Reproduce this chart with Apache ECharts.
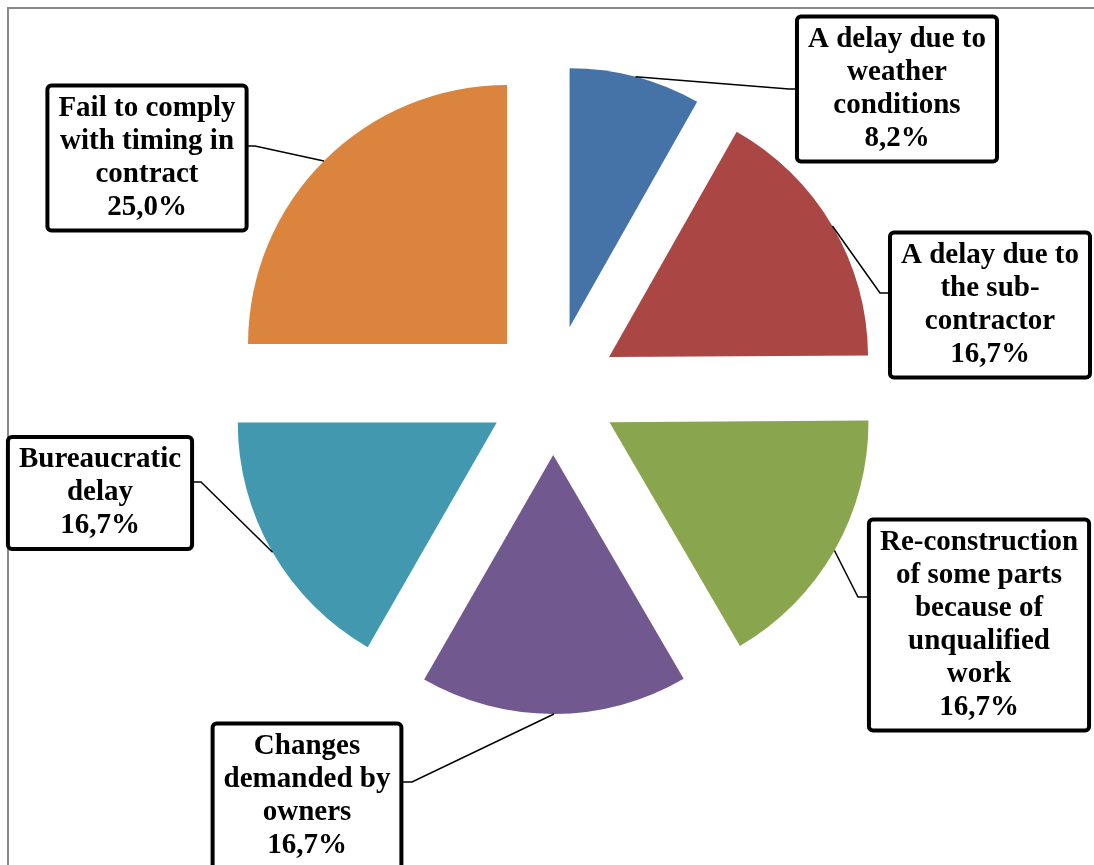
<!DOCTYPE html>
<html>
<head>
<meta charset="utf-8">
<script src="https://cdn.jsdelivr.net/npm/echarts@6/dist/echarts.min.js"></script>
<style>
  html, body { margin: 0; padding: 0; background: #fff; }
  #chart { width: 1094px; height: 865px; }
</style>
</head>
<body>
<div id="chart"></div>
<script>
// Causes of project delay, share of responses (%)
const categories = [
  'A delay due to\nweather\nconditions',
  'A delay due to\nthe sub-\ncontractor',
  'Re-construction\nof some parts\nbecause of\nunqualified\nwork',
  'Changes\ndemanded by\nowners',
  'Bureaucratic\ndelay',
  'Fail to comply\nwith timing in\ncontract'
];
const shares = [8.2, 16.7, 16.7, 16.7, 16.7, 25.0];
const colors = ['#4572A7', '#AA4643', '#89A54E', '#71588F', '#4198AF', '#DB843D'];

// Callout placement: box centre, and the box edge point the leader line meets
const callouts = [
  { x: 897, y: 89,  edgeX: 797, edgeY: 89,  elbow: -8 },
  { x: 990, y: 305, edgeX: 891, edgeY: 293, elbow: -11 },
  { x: 979, y: 625, edgeX: 869, edgeY: 597, elbow: -11 },
  { x: 307, y: 796, edgeX: 402, edgeY: 782, elbow: 10 },
  { x: 100, y: 493, edgeX: 193, edgeY: 482, elbow: 8 },
  { x: 147, y: 158, edgeX: 247, edgeY: 146, elbow: 8 }
];

const explode = 65;
const pieCenter = [553, 390];
const pieRadius = 259;

const chart = echarts.init(document.getElementById('chart'), null, { renderer: 'canvas' });

function fmtPct(v) {
  return v.toFixed(1).replace('.', ',') + '%';
}

const common = {
  type: 'pie',
  center: pieCenter,
  radius: [0, pieRadius],
  startAngle: 90,
  clockwise: true,
  avoidLabelOverlap: false
};

chart.setOption({
  animation: false,
  backgroundColor: '#fff',
  graphic: [{
    type: 'rect',
    z: -10,
    silent: true,
    shape: { x: 8, y: 8, width: 1200, height: 1000 },
    style: { fill: 'none', stroke: '#8a8a8a', lineWidth: 2 }
  }],
  series: [
    // exploded slices
    Object.assign({}, common, {
      selectedMode: 'multiple',
      selectedOffset: explode,
      emphasis: { scale: false, disabled: true },
      itemStyle: { borderWidth: 0 },
      label: { show: false },
      labelLine: { show: false },
      data: categories.map((name, i) => ({
        name: name,
        value: shares[i],
        selected: true,
        itemStyle: { color: colors[i] }
      }))
    }),
    // boxed callouts with leader lines
    Object.assign({}, common, {
      silent: true,
      z: 5,
      emphasis: { disabled: true },
      itemStyle: { color: 'rgba(0,0,0,0)', borderWidth: 0 },
      data: categories.map((name, i) => ({ name: name, value: shares[i] })),
      label: {
        show: true,
        position: 'outside',
        formatter: p => p.name + '\n' + fmtPct(p.value),
        fontFamily: 'Liberation Serif',
        fontWeight: 'bold',
        fontSize: 29,
        lineHeight: 33,
        color: '#000',
        align: 'center',
        backgroundColor: '#fff',
        borderColor: '#000',
        borderWidth: 4,
        borderRadius: 2,
        padding: [6, 9, 3, 9]
      },
      labelLine: {
        show: true,
        lineStyle: { color: '#000', width: 1.5 }
      },
      labelLayout: function (params) {
        const i = params.dataIndex;
        const c = callouts[i];
        const lay = chart.getModel().getSeriesByIndex(params.seriesIndex).getData().getItemLayout(i);
        const mid = (lay.startAngle + lay.endAngle) / 2;
        const rr = lay.r + explode;
        const start = [lay.cx + rr * Math.cos(mid), lay.cy + rr * Math.sin(mid)];
        return {
          x: c.x,
          y: c.y,
          align: 'center',
          verticalAlign: 'middle',
          labelLinePoints: [start, [c.edgeX + c.elbow, c.edgeY], [c.edgeX, c.edgeY]]
        };
      }
    })
  ]
});
</script>
</body>
</html>
